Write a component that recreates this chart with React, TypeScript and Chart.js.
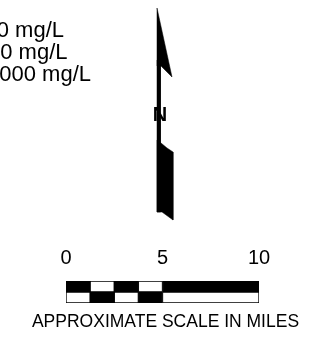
import React, { useEffect, useRef } from "react";
import { Chart, registerables } from "chart.js";

Chart.register(...registerables);

// ---- data ----
const legendLabels = ["10 mg/L", "100 mg/L", "1000 mg/L"];
const northLabel = "N";
const scaleRows = ["upper", "lower"];
const scaleTickValues = [0, 5, 10];
const scaleSegments = [1.25, 1.25, 1.25, 1.25, 5];
const upperRowColors = ["#000000", "#ffffff", "#000000", "#ffffff", "#000000"];
const lowerRowColors = ["#ffffff", "#000000", "#ffffff", "#000000", "#ffffff"];
const scaleTitle = "APPROXIMATE SCALE IN MILES";

// north-arrow symbol outline, in the symbol frame units
const arrowHead = [
  { x: 157, y: 8 },
  { x: 172, y: 77 },
  { x: 161, y: 66 },
  { x: 157, y: 66 },
  { x: 157, y: 8 },
];
const arrowShaft = [
  { x: 157, y: 60 },
  { x: 160.5, y: 60 },
  { x: 160.5, y: 212 },
  { x: 157, y: 212 },
  { x: 157, y: 60 },
];
const arrowTail = [
  { x: 157, y: 140 },
  { x: 161, y: 143 },
  { x: 167, y: 148 },
  { x: 173, y: 152 },
  { x: 173, y: 220 },
  { x: 162, y: 212 },
  { x: 157, y: 212 },
  { x: 157, y: 140 },
];

// ---- layout (not data) ----
const W = 327;
const TOP_H = 225;
const BOTTOM_H = 115;
const FONT = "'Liberation Sans', Arial, sans-serif";
const legendRight = [64, 67.5, 91];
const legendBaseline = [37, 59, 81];
const nPos = { x: 160, y: 115 };

function shapeDataset(points: { x: number; y: number }[]) {
  return {
    data: points,
    showLine: true,
    fill: "shape",
    backgroundColor: "#000000",
    borderColor: "#000000",
    borderWidth: 0.5,
    pointRadius: 0,
    tension: 0,
  };
}

export default function App() {
  const topRef = useRef<HTMLCanvasElement>(null);
  const botRef = useRef<HTMLCanvasElement>(null);

  useEffect(() => {
    const textPlugin = {
      id: "mapText",
      afterDatasetsDraw(chart: any) {
        const { ctx, scales } = chart;
        const xs = scales.x;
        const ys = scales.y;
        ctx.save();
        ctx.fillStyle = "#000";
        ctx.font = `22px ${FONT}`;
        ctx.textAlign = "right";
        ctx.textBaseline = "alphabetic";
        legendLabels.forEach((t, i) => {
          ctx.fillText(t, xs.getPixelForValue(legendRight[i]), ys.getPixelForValue(legendBaseline[i]));
        });
        ctx.font = `bold 20px ${FONT}`;
        ctx.textAlign = "center";
        ctx.textBaseline = "middle";
        ctx.fillText(northLabel, xs.getPixelForValue(nPos.x), ys.getPixelForValue(nPos.y));
        ctx.restore();
      },
    };

    const titlePlugin = {
      id: "scaleTitle",
      afterDraw(chart: any) {
        const { ctx, scales, chartArea } = chart;
        const xs = scales.x;
        const cx = (xs.getPixelForValue(scaleTickValues[0]) + xs.getPixelForValue(scaleTickValues[scaleTickValues.length - 1])) / 2 + 3;
        ctx.save();
        ctx.fillStyle = "#000";
        ctx.font = `17.5px ${FONT}`;
        ctx.textAlign = "center";
        ctx.textBaseline = "alphabetic";
        ctx.fillText(scaleTitle, cx, chartArea.bottom + 24);
        ctx.restore();
      },
    };

    const top = new Chart(topRef.current!, {
      type: "scatter",
      data: {
        datasets: [shapeDataset(arrowShaft), shapeDataset(arrowHead), shapeDataset(arrowTail)] as any,
      },
      options: {
        responsive: false,
        animation: false,
        events: [],
        layout: { padding: 0 },
        plugins: { legend: { display: false }, tooltip: { enabled: false } },
        scales: {
          x: { type: "linear", min: 0, max: W, display: false },
          y: { type: "linear", min: 0, max: TOP_H, reverse: true, display: false },
        },
      },
      plugins: [textPlugin],
    });

    const bottom = new Chart(botRef.current!, {
      type: "bar",
      data: {
        labels: scaleRows,
        datasets: scaleSegments.map((v, i) => ({
          data: [v, v],
          backgroundColor: [upperRowColors[i], lowerRowColors[i]],
          borderColor: "#000000",
          borderWidth: 1,
          borderSkipped: false,
          barPercentage: 1,
          categoryPercentage: 1,
        })),
      },
      options: {
        indexAxis: "y",
        responsive: false,
        animation: false,
        events: [],
        layout: { padding: { left: 66, right: 68, top: 16, bottom: 37 } },
        plugins: { legend: { display: false }, tooltip: { enabled: false } },
        scales: {
          x: {
            type: "linear",
            position: "top",
            stacked: true,
            min: 0,
            max: 10,
            afterBuildTicks: (s: any) => {
              s.ticks = scaleTickValues.map((v) => ({ value: v }));
            },
            afterFit: (s: any) => {
              s.height = 40;
            },
            grid: { display: false, drawTicks: false },
            border: { display: false },
            ticks: {
              color: "#000",
              font: { size: 20, family: FONT, lineHeight: 1.2 },
              padding: 11,
              maxRotation: 0,
              autoSkip: false,
            },
          },
          y: { type: "category", stacked: true, display: false },
        },
      } as any,
      plugins: [titlePlugin],
    });

    return () => {
      top.destroy();
      bottom.destroy();
    };
  }, []);

  return (
    <div style={{ position: "absolute", left: 0, top: 0, width: W, height: TOP_H + BOTTOM_H, background: "#fff" }}>
      <canvas ref={topRef} width={W} height={TOP_H} style={{ display: "block", width: W, height: TOP_H }} />
      <canvas ref={botRef} width={W} height={BOTTOM_H} style={{ display: "block", width: W, height: BOTTOM_H }} />
    </div>
  );
}
